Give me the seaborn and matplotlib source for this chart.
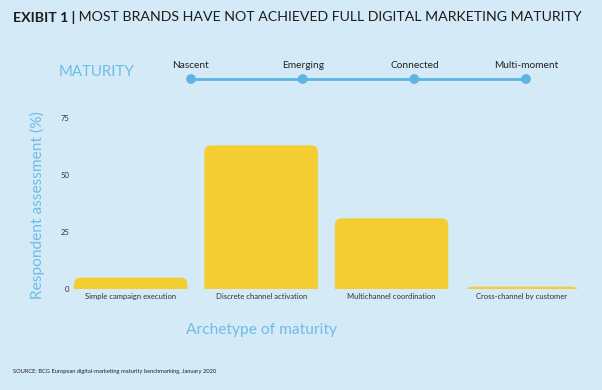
import matplotlib
matplotlib.use("Agg")
import matplotlib.pyplot as plt
import seaborn as sns
import pandas as pd
from matplotlib.patches import FancyBboxPatch

# ---- data ----
archetypes = ["Simple campaign execution", "Discrete channel activation",
              "Multichannel coordination", "Cross-channel by customer"]
assessment = [5, 63, 31, 1]
stages = ["Nascent", "Emerging", "Connected", "Multi-moment"]
y_ticks = [0, 25, 50, 75]

BG = "#d4eaf7"
YELLOW = "#f4cd33"
LBLUE = "#6cbde9"
LINE = "#5fb4e5"
DARK = "#1c1c1c"
FONT = "Lato"

sns.set_theme(style="white")
plt.rcParams["font.family"] = [FONT, "DejaVu Sans"]

fig = plt.figure(figsize=(6.02, 3.90), dpi=100, facecolor=BG)

# ---- main bar axes ----
ax = fig.add_axes([72/602, 1-289/390, 510/602, (289-106.6)/390])
ax.set_facecolor(BG)
df = pd.DataFrame({"archetype": archetypes, "value": assessment})
sns.barplot(data=df, x="archetype", y="value", color=YELLOW, width=0.87,
            saturation=1, ax=ax)
ax.set_xlim(-0.45, 3.46)
ax.set_ylim(0, 80)
ax.set_yticks(y_ticks)
ax.set_yticklabels([str(t) for t in y_ticks])
for s in ax.spines.values():
    s.set_visible(False)
ax.tick_params(axis="both", length=0, labelsize=5.5, colors="#333333")
ax.tick_params(axis="x", pad=3)
ax.tick_params(axis="y", pad=2)
ax.set_xlabel("")
ax.set_ylabel("")

# rounded top corners: replace rectangles with rounded boxes (bottom clipped)
r_x = 0.055
aspect = 2.7 / 0.05
for p in list(ax.patches):
    x0, y0 = p.get_x(), p.get_y()
    w, h = p.get_width(), p.get_height()
    ext = r_x * aspect
    fb = FancyBboxPatch((x0, y0 - ext), w, h + ext,
                        boxstyle=f"round,pad=0,rounding_size={r_x}",
                        mutation_aspect=aspect, facecolor=YELLOW,
                        edgecolor="none", clip_on=True)
    ax.add_patch(fb)
    fb.set_clip_path(ax.patch)
    p.remove()

# ---- axis titles ----
fig.text(37/602, 1-205/390, "Respondent assessment (%)", rotation=90,
         ha="center", va="center", color=LBLUE, fontsize=11.2)
fig.text(262/602, 1-330/390, "Archetype of maturity", ha="center",
         va="center", color=LBLUE, fontsize=11.2)

# ---- title ----
t1 = fig.text(13/602, 1-17/390, "EXIBIT 1 |", ha="left", va="center",
              fontsize=10.2, fontweight="bold", color=DARK)
ax.annotate(" MOST BRANDS HAVE NOT ACHIEVED FULL DIGITAL MARKETING MATURITY",
            xy=(1, 0.5), xycoords=t1, ha="left", va="center",
            fontsize=10.2, color=DARK)

# ---- maturity timeline ----
fig.text(97/602, 1-72/390, "MATURITY", ha="center", va="center",
         color=LBLUE, fontsize=10.8)
tax = fig.add_axes([150/602, 1-90/390, 417/602, 35/390])
tax.set_facecolor("none")
tl = pd.DataFrame({"pos": range(len(stages)), "y": [0.314]*len(stages)})
sns.lineplot(data=tl, x="pos", y="y", color=LINE, linewidth=2, ax=tax)
sns.scatterplot(data=tl, x="pos", y="y", color=LINE, s=50,
                edgecolor="none", ax=tax, zorder=3)
for i, s in enumerate(stages):
    tax.text(i, 0.686, s, ha="center", va="center", fontsize=7.3,
             color="#222222")
tax.set_xlim(-0.367, 3.367)
tax.set_ylim(0, 1)
tax.axis("off")

# ---- source ----
fig.text(13/602, 1-371/390,
         "SOURCE: BCG European digital-marketing maturity benchmarking, January 2020",
         ha="left", va="center", fontsize=4.15, color="#222222")

fig.savefig("out.png", dpi=100, facecolor=BG)
